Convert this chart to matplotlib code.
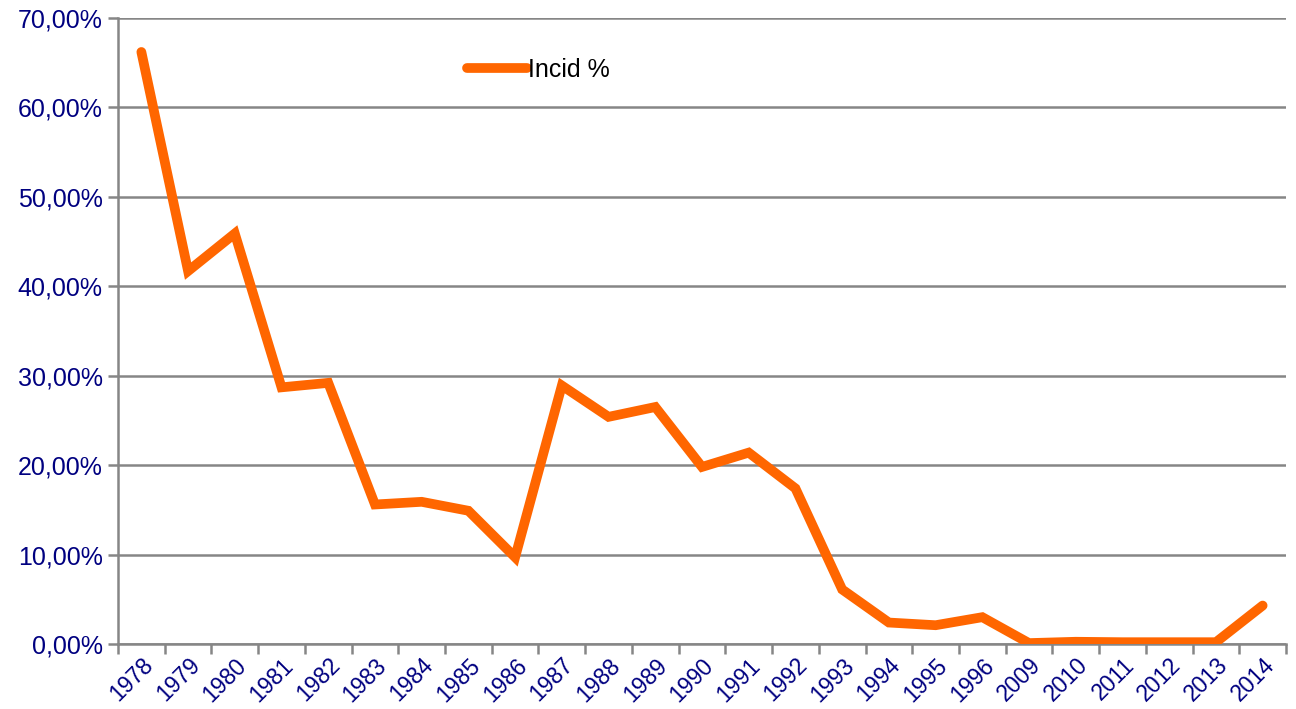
import matplotlib.pyplot as plt
import numpy as np

years = ['1978', '1979', '1980', '1981', '1982', '1983', '1984', '1985', '1986',
         '1987', '1988', '1989', '1990', '1991', '1992', '1993', '1994', '1995',
         '1996', '2009', '2010', '2011', '2012', '2013', '2014']
incid = [66.2, 41.7, 45.9, 28.7, 29.2, 15.6, 15.9, 14.9, 9.7,
         28.9, 25.4, 26.5, 19.8, 21.4, 17.4, 6.1, 2.4, 2.1,
         3.0, 0.1, 0.25, 0.2, 0.2, 0.2, 4.3]

plt.rcParams['font.family'] = ['Liberation Sans', 'DejaVu Sans']

fig = plt.figure(figsize=(12.96, 7.09), dpi=100)
ax = fig.add_axes([118/1296, 1 - 644/709, (1286 - 118)/1296, (644 - 18)/709])

x = np.arange(len(years))
ax.plot(x, incid, color='#FF6600', lw=7, solid_capstyle='round',
        solid_joinstyle='miter', label='Incid %', zorder=3)

grey = '#868686'
ax.set_xlim(-0.5, len(years) - 0.5)
ax.set_ylim(0, 70)
ax.set_yticks(np.arange(0, 71, 10))
ax.set_yticklabels([f'{v:.2f}%'.replace('.', ',') for v in range(0, 71, 10)])
ax.grid(axis='y', color=grey, lw=1.8, zorder=0)

ax.set_xticks(x)
ax.set_xticklabels(years, rotation=45, ha='right', rotation_mode='anchor')
ax.set_xticks(np.arange(-0.5, len(years)), minor=True)
ax.tick_params(axis='x', which='major', length=0, pad=7, labelsize=16.5,
               labelcolor='#000080')
ax.tick_params(axis='x', which='minor', length=7, width=1.8, color=grey)
ax.tick_params(axis='y', length=7, width=1.8, color=grey, labelsize=18,
               labelcolor='#000080', pad=4)

for s in ['top', 'right']:
    ax.spines[s].set_visible(False)
for s in ['left', 'bottom']:
    ax.spines[s].set_color(grey)
    ax.spines[s].set_linewidth(1.8)

ax.legend(loc='center left', bbox_to_anchor=(467/1296, 1 - 70/709),
          bbox_transform=fig.transFigure, frameon=False, fontsize=18,
          handlelength=2.4, handletextpad=0.05, borderpad=0, borderaxespad=0)

fig.savefig('out.png', dpi=100)
